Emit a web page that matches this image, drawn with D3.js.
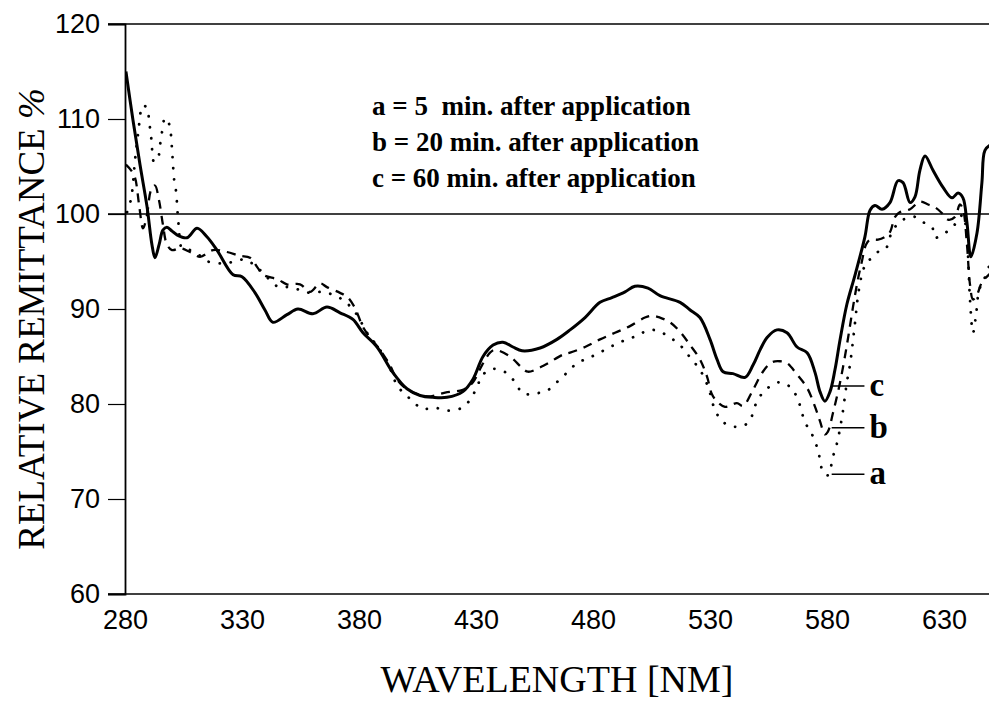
<!DOCTYPE html>
<html>
<head>
<meta charset="utf-8">
<script src="https://cdn.jsdelivr.net/npm/d3@7"></script>
<style>
  html, body { margin: 0; padding: 0; background: #fff; }
  svg { display: block; }
</style>
</head>
<body>
<svg id="chart" width="989" height="704"></svg>
<script>
// ---------------- DATA ----------------
// c = 60 min. after application (solid)
const wl_c = [280.4,283.4,286.4,289.4,291.5,292.8,294.6,296.2,297.9,300.1,302.2,306.5,310.8,315.0,319.3,326.2,330.0,335.6,339.8,343.2,349.2,353.9,360.3,366.3,371.9,377.4,381.7,387.7,394.5,400.5,406.1,411.6,417.6,424.4,428.7,433.0,437.3,441.5,445.8,449.7,457.4,464.6,470.2,476.6,483.0,488.1,493.7,497.9,503.5,508.6,517.2,521.5,525.7,530.0,533.0,535.6,539.8,545.0,548.4,551.4,554.4,558.6,562.9,567.2,571.5,574.9,577.0,579.1,581.3,583.4,585.6,588.5,592.0,596.2,598.4,600.5,603.5,606.9,610.3,612.5,615.5,617.6,619.7,621.9,625.3,629.6,633.4,636.0,638.1,639.8,641.5,644.1,646.2,647.5,650.0];
const val_c = [115.0,109.9,105.2,100.8,96.8,95.4,96.8,98.3,98.6,98.2,97.8,97.5,98.5,97.6,96.2,93.6,93.4,91.7,89.9,88.6,89.4,90.0,89.5,90.2,89.6,88.9,87.5,86.0,83.3,81.6,80.9,80.7,80.7,81.3,82.6,85.0,86.2,86.5,86.0,85.6,85.9,86.8,87.8,89.1,90.7,91.2,91.8,92.4,92.2,91.4,90.7,89.9,89.1,86.8,84.7,83.4,83.2,82.8,84.1,85.7,87.0,87.8,87.5,86.0,85.4,83.3,81.3,80.3,81.3,83.6,86.8,90.5,93.6,97.6,100.4,100.9,100.5,101.2,103.5,103.3,101.2,101.8,104.6,106.1,104.6,102.8,101.7,102.2,101.7,99.1,95.5,98.0,103.3,106.7,107.3];

// b = 20 min. after application (dashed)
const wl_b = [280.4,282.6,284.3,286.0,287.7,289.4,291.1,292.8,294.5,296.2,297.9,300.1,303.5,307.8,312.1,317.6,323.6,329.1,333.4,336.8,339.0,345.4,349.2,354.8,359.1,363.3,366.3,371.9,374.9,378.3,381.7,386.0,388.1,393.2,396.2,400.9,409.1,416.8,424.4,428.7,432.6,436.0,438.1,444.5,449.7,452.2,458.6,467.2,470.2,476.6,483.0,489.4,495.8,502.2,505.2,508.6,512.9,517.2,521.5,525.7,528.7,531.3,536.4,541.5,544.1,548.4,552.6,556.5,559.9,562.9,567.2,571.5,574.9,577.0,579.1,580.4,582.6,585.6,588.5,591.1,593.2,594.9,596.7,598.4,601.8,604.8,606.9,609.1,611.2,615.5,619.7,623.2,626.2,629.1,631.7,634.7,636.8,638.1,639.8,641.1,642.4,644.1,646.2,650.0];
const val_b = [105.2,104.6,103.8,101.0,98.5,99.9,102.5,103.0,101.5,98.9,96.8,96.2,96.4,96.0,95.5,96.2,96.0,95.6,95.4,94.3,93.6,93.1,92.6,92.6,91.8,92.7,92.3,91.7,91.3,90.1,88.1,86.6,86.0,84.1,82.6,81.5,80.8,81.2,81.5,82.3,84.1,85.4,85.7,85.0,83.8,83.4,84.0,85.2,85.4,86.0,86.8,87.5,88.2,89.1,89.3,89.1,88.6,87.6,86.2,84.7,82.9,80.8,79.7,80.1,79.8,81.5,83.4,84.4,84.5,84.3,83.1,81.7,79.7,78.2,76.8,77.1,79.1,82.3,86.2,90.2,93.1,95.0,96.8,97.3,97.3,97.6,98.1,99.7,100.2,100.5,101.3,101.0,100.7,100.1,99.4,99.7,101.0,100.5,96.8,92.6,91.0,91.5,92.8,93.8];

// a = 5 min. after application (dotted)
const wl_a = [280.9,282.6,284.3,285.6,286.4,287.3,289.4,290.3,291.1,291.5,292.4,294.1,295.0,295.8,297.1,298.8,299.7,300.1,300.5,300.9,301.8,302.2,302.6,303.1,303.5,304.4,307.8,312.1,315.5,321.9,327.0,331.3,337.7,345.0,349.7,354.8,359.1,364.6,369.7,374.0,379.1,383.4,389.0,393.2,395.4,398.4,402.6,406.9,412.5,418.0,424.0,427.9,430.4,433.0,437.3,442.8,446.7,450.1,454.8,460.3,465.0,468.9,473.2,478.7,485.1,491.5,497.9,504.4,508.6,512.9,517.2,521.5,525.7,529.2,532.1,535.6,540.7,546.2,550.5,554.8,559.9,564.2,567.2,570.6,573.6,575.8,577.0,578.3,580.4,582.6,584.3,586.4,588.5,589.8,592.0,593.2,594.9,597.1,599.7,602.6,605.2,607.7,611.2,614.6,617.6,620.6,624.9,626.2,628.3,630.4,633.4,636.0,638.1,639.8,641.1,642.4,643.7,645.0,647.1,650.0];
const val_a = [100.2,101.6,105.7,108.5,110.1,111.4,111.2,109.7,108.3,107.0,105.5,105.9,107.3,108.6,110.1,109.5,108.2,106.7,105.3,103.8,102.4,101.2,99.7,98.3,97.0,96.4,96.2,95.6,95.0,94.8,95.0,95.2,94.1,92.4,92.3,92.0,91.7,91.8,91.4,90.8,89.4,87.5,85.7,83.8,82.4,81.3,80.4,79.5,79.6,79.3,79.6,80.6,81.8,83.1,83.7,83.3,82.3,81.1,81.1,81.4,82.4,83.3,84.3,84.9,85.7,86.5,87.1,87.8,87.6,87.0,86.2,84.9,83.6,81.8,79.4,78.1,77.6,78.0,80.5,81.7,82.3,81.8,80.7,78.1,76.8,75.4,74.2,72.8,72.5,74.5,75.9,78.6,82.3,84.1,88.6,91.3,93.6,95.0,95.4,96.2,96.4,98.1,99.2,99.6,99.7,99.2,98.6,97.5,97.7,98.0,98.5,99.4,99.9,97.3,91.0,87.5,89.4,92.0,93.1,95.0];

const xTicks = [280, 330, 380, 430, 480, 530, 580, 630];
const yTicks = [60, 70, 80, 90, 100, 110, 120];
const yFullLines = [60, 100, 120];

const legendLines = ["a = 5  min. after application", "b = 20 min. after application", "c = 60 min. after application"];
const curveLabels = ["c", "b", "a"];
const curveLabelValues = [81.9, 77.5, 72.6];
const curveLabelFrom = 582;
const curveLabelTo = 596;

// ---------------- CHART ----------------
const svg = d3.select("#chart");
const plotLeft = 125, plotRight = 989, plotTop = 24, plotBottom = 594;

const x = d3.scaleLinear().domain([280, 650]).range([plotLeft, plotLeft + 370 * 2.34]);
const y = d3.scaleLinear().domain([60, 120]).range([plotBottom, plotTop]);

svg.append("defs").append("clipPath").attr("id", "plotclip")
  .append("rect").attr("x", plotLeft).attr("y", 0).attr("width", plotRight - plotLeft).attr("height", 704);

// Full-width horizontal lines at 60, 100, 120
svg.append("g").selectAll("line").data(yFullLines).join("line")
  .attr("x1", 108).attr("x2", 989)
  .attr("y1", d => y(d)).attr("y2", d => y(d))
  .attr("stroke", "#000").attr("stroke-width", 1.6);

// Y axis
const yAxis = d3.axisLeft(y).tickValues(yTicks).tickSize(17).tickPadding(8).tickFormat(d3.format("d"));
const gy = svg.append("g").attr("transform", `translate(${plotLeft},0)`).call(yAxis);
gy.select(".domain").attr("stroke", "#000").attr("stroke-width", 1.8);
gy.selectAll(".tick line").attr("stroke", "#000").attr("stroke-width", 1.2);
gy.selectAll(".tick text").attr("font-family", "'Liberation Sans', Arial, sans-serif")
  .attr("font-size", 27).attr("fill", "#000");

// X axis (labels only)
const xAxis = d3.axisBottom(x).tickValues(xTicks).tickSize(0).tickPadding(16).tickFormat(d3.format("d"));
const gx = svg.append("g").attr("transform", `translate(0,${plotBottom})`).call(xAxis);
gx.select(".domain").remove();
gx.selectAll(".tick text").attr("font-family", "'Liberation Sans', Arial, sans-serif")
  .attr("font-size", 27).attr("fill", "#000");

// Lines
const line = d3.line().x(d => x(d[0])).y(d => y(d[1])).curve(d3.curveCatmullRom.alpha(0.5));
const zip = (w, v) => w.map((d, i) => [d, v[i]]);

const lines = svg.append("g").attr("clip-path", "url(#plotclip)");
lines.append("path").datum(zip(wl_a, val_a)).attr("d", line)
  .attr("fill", "none").attr("stroke", "#000").attr("stroke-width", 2.8)
  .attr("stroke-linecap", "round").attr("stroke-dasharray", "0.1,11");
lines.append("path").datum(zip(wl_b, val_b)).attr("d", line)
  .attr("fill", "none").attr("stroke", "#000").attr("stroke-width", 2.3)
  .attr("stroke-dasharray", "9,7");
lines.append("path").datum(zip(wl_c, val_c)).attr("d", line)
  .attr("fill", "none").attr("stroke", "#000").attr("stroke-width", 3)
  .attr("stroke-linejoin", "round");

// Curve labels c, b, a
const lab = svg.append("g");
lab.selectAll("line").data(curveLabelValues).join("line")
  .attr("x1", x(curveLabelFrom)).attr("x2", x(curveLabelTo))
  .attr("y1", d => y(d)).attr("y2", d => y(d))
  .attr("stroke", "#000").attr("stroke-width", 1.6);
lab.selectAll("text").data(curveLabels).join("text")
  .attr("x", x(curveLabelTo) + 5)
  .attr("y", (d, i) => y(curveLabelValues[i]) + 10)
  .attr("font-family", "'Liberation Serif', 'Times New Roman', serif")
  .attr("font-weight", "bold").attr("font-size", 33)
  .text(d => d);

// Legend text
svg.append("g").selectAll("text").data(legendLines).join("text")
  .attr("x", 372).attr("y", (d, i) => 115 + i * 36)
  .attr("font-family", "'Liberation Serif', 'Times New Roman', serif")
  .attr("font-weight", "bold").attr("font-size", 27)
  .style("white-space", "pre")
  .text(d => d);

// Axis titles
svg.append("text").attr("x", 557).attr("y", 692).attr("text-anchor", "middle")
  .attr("font-family", "'Liberation Serif', 'Times New Roman', serif")
  .attr("font-size", 38).text("WAVELENGTH [NM]");

const yt = svg.append("text").attr("transform", `translate(44,${(plotTop + plotBottom) / 2 + 10}) rotate(-90)`)
  .attr("text-anchor", "middle")
  .attr("font-family", "'Liberation Serif', 'Times New Roman', serif")
  .attr("font-size", 37);
yt.append("tspan").text("RELATIVE REMITTANCE ");
yt.append("tspan").attr("font-style", "italic").text("%");
</script>
</body>
</html>
